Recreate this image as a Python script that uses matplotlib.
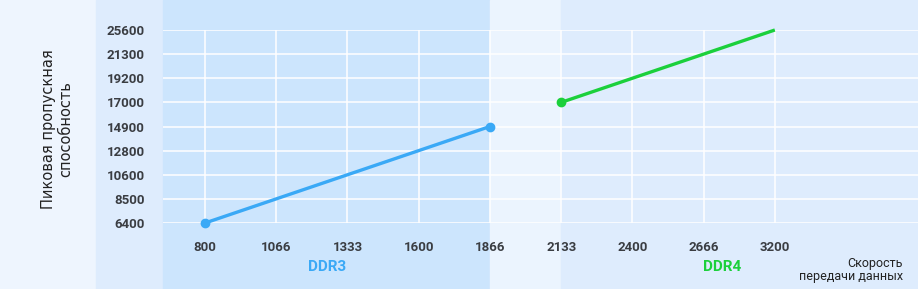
import matplotlib.pyplot as plt
from matplotlib.patches import Rectangle
from matplotlib.transforms import blended_transform_factory

# category ticks (equally spaced on the chart)
speed_ticks = ['800', '1066', '1333', '1600', '1866', '2133', '2400', '2666', '3200']
bw_ticks = [6400, 8500, 10600, 12800, 14900, 17000, 19200, 21300, 25600]

ddr3_speed = ['800', '1066', '1333', '1600', '1866']
ddr3_bw = [6400, 8500, 10600, 12800, 14900]
ddr4_speed = ['2133', '2400', '2666', '3200']
ddr4_bw = [17000, 19200, 21300, 25600]

blue = '#3aa9f6'
green = '#1bd03b'
text_col = '#3a3d42'

plt.rcParams['font.family'] = ['Roboto', 'DejaVu Sans']

fig = plt.figure(figsize=(9.18, 2.89), dpi=100)
W, H = 918, 289
ax = fig.add_axes([163 / W, 1 - 223 / H, (W - 163) / W, (223 - 30) / H])
ax.set_xlim(-0.59, 10.01)
ax.set_ylim(0, 8)
ax.patch.set_alpha(0)

# background bands
fig.patches.append(Rectangle((0, 0), 96 / W, 1, transform=fig.transFigure,
                             color='#eef5fe', zorder=-10))
fig.patches.append(Rectangle((96 / W, 0), 67 / W, 1, transform=fig.transFigure,
                             color='#deecfd', zorder=-10))
bt = blended_transform_factory(ax.transData, fig.transFigure)
i3 = speed_ticks.index('1866')
i4 = speed_ticks.index('2133')
ax.add_patch(Rectangle((-0.59, 0), i3 + 0.59, 1, transform=bt, color='#cce5fd',
                       zorder=-5, clip_on=False))
ax.add_patch(Rectangle((i3, 0), i4 - i3, 1, transform=bt, color='#ebf4fe',
                       zorder=-5, clip_on=False))
ax.add_patch(Rectangle((i4, 0), 10.01 - i4, 1, transform=bt, color='#deecfd',
                       zorder=-5, clip_on=False))

# grid
for i in range(len(bw_ticks)):
    ax.axhline(i, color='white', lw=1.1, zorder=1)
for i in range(len(speed_ticks)):
    ax.plot([i, i], [0, 8], color='white', lw=1.1, zorder=1)

x3 = [speed_ticks.index(s) for s in ddr3_speed]
y3 = [bw_ticks.index(b) for b in ddr3_bw]
x4 = [speed_ticks.index(s) for s in ddr4_speed]
y4 = [bw_ticks.index(b) for b in ddr4_bw]

ax.plot(x3, y3, color=blue, lw=2.4, marker='o', ms=6, markevery=[0, len(x3) - 1],
        solid_capstyle='round', zorder=3, clip_on=False)
ax.plot(x4, y4, color=green, lw=2.4, marker='o', ms=6, markevery=[0],
        solid_capstyle='butt', zorder=3, clip_on=False)

ax.set_xticks(range(len(speed_ticks)))
ax.set_xticklabels(speed_ticks)
ax.set_yticks(range(len(bw_ticks)))
ax.set_yticklabels([str(b) for b in bw_ticks])
ax.tick_params(length=0, labelsize=9.5, labelcolor=text_col, pad=13)
ax.tick_params(axis='y', pad=13)
for lab in ax.get_xticklabels() + ax.get_yticklabels():
    lab.set_fontweight('bold')
for s in ax.spines.values():
    s.set_visible(False)

fig.text(57 / W, 1 - 129 / H, 'Пиковая пропускная\nспособность', rotation=90,
         ha='center', va='center', fontsize=10.5, color='#222222', linespacing=1.2,
         family='DejaVu Sans')
fig.text(327 / W, 1 - 267 / H, 'DDR3', ha='center', va='center',
         fontsize=11, fontweight='bold', color=blue)
fig.text(722 / W, 1 - 267 / H, 'DDR4', ha='center', va='center',
         fontsize=11, fontweight='bold', color=green)
fig.text(903 / W, 1 - 270 / H, 'Скорость\nпередачи данных', ha='right', va='center',
         fontsize=9, color='#222222', linespacing=1.05, multialignment='right')

fig.savefig('out.png', dpi=100)
